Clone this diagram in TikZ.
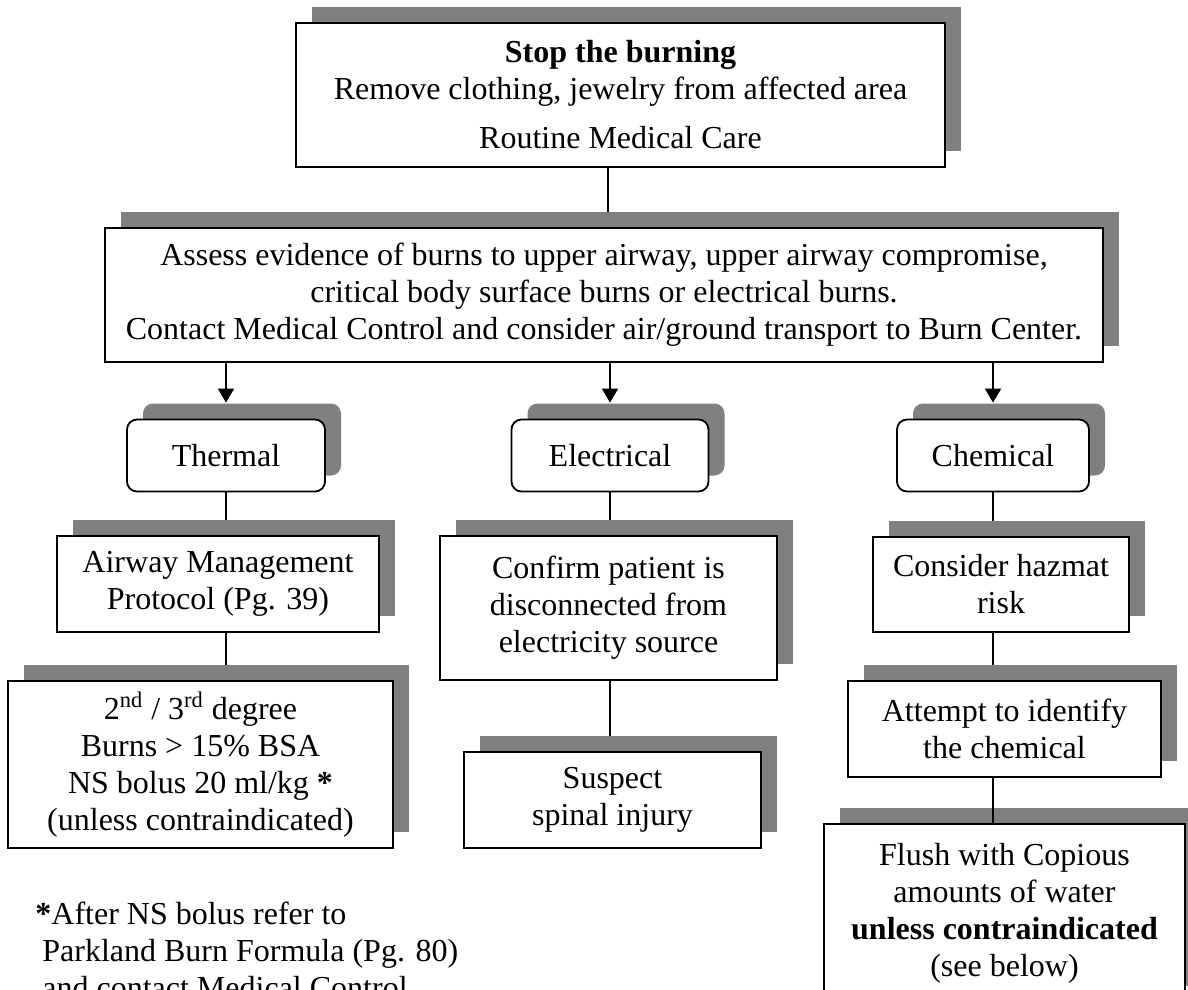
\documentclass[tikz,border=0pt]{standalone}
\usepackage{fontspec}
\setmainfont{Liberation Serif}
\usetikzlibrary{arrows.meta, shadows, backgrounds}

\begin{document}
\begin{tikzpicture}[
    x=0.5pt, y=-0.5pt,
    font=\fontsize{16}{18.5}\selectfont,
    careblock/.style={rectangle, draw=black, line width=0.9pt, fill=white,
                 align=center, inner sep=0pt,
                 general shadow={fill=black!50, shadow xshift=8pt, shadow yshift=8pt}},
    branchblock/.style={careblock, rounded corners=5pt},
    link/.style={line width=0.9pt},
    arr/.style={link, -{Triangle[length=7pt, width=8pt]}}
  ]
  \useasboundingbox (0,0) rectangle (1188,990);

  \node[careblock, minimum width=324.5pt, minimum height=72pt] (stop) at (620.5,95)
    {\textbf{Stop the burning}\\Remove clothing, jewelry from affected area\\[6pt]Routine Medical Care};
  \node[careblock, minimum width=499pt, minimum height=67pt] (assess) at (604,295)
    {Assess evidence of burns to upper airway, upper airway compromise,\\
     critical body surface burns or electrical burns.\\
     Contact Medical Control and consider air/ground transport to Burn Center.};

  % burn types
  \node[branchblock, minimum width=99pt, minimum height=36pt] (thermal) at (226,455.5) {Thermal};
  \node[branchblock, minimum width=98.5pt, minimum height=36pt] (electrical) at (610,455.5) {Electrical};
  \node[branchblock, minimum width=96pt, minimum height=36pt] (chemical) at (993,455.5) {Chemical};

  % thermal column
  \node[careblock, minimum width=161pt, minimum height=48pt] (airway) at (218,584)
    {Airway Management\\Protocol (Pg. 39)};
  \node[careblock, minimum width=192.5pt, minimum height=83.5pt] (degree) at (200.5,764.5)
    {2\textsuperscript{nd} / 3\textsuperscript{rd} degree\\Burns > 15\% BSA\\
     NS bolus 20 ml/kg \textbf{*}\\(unless contraindicated)};

  % electrical column
  \node[careblock, minimum width=168.5pt, minimum height=72pt] (confirm) at (608.5,608)
    {Confirm patient is\\disconnected from\\electricity source};
  \node[careblock, minimum width=148.5pt, minimum height=48pt] (spinal) at (612.5,800)
    {Suspect\\spinal injury};

  % chemical column
  \node[careblock, minimum width=128pt, minimum height=47.5pt] (hazmat) at (1001,584.5)
    {Consider hazmat\\risk};
  \node[careblock, minimum width=156.5pt, minimum height=48pt] (identify) at (1004.5,729)
    {Attempt to identify\\the chemical};
  \node[careblock, minimum width=180.5pt, minimum height=89pt] (flush) at (1004.5,913)
    {Flush with Copious\\amounts of water\\\textbf{unless contraindicated}\\(see below)};

  \node[align=left, anchor=north west, inner sep=0pt] (footnote) at (35,902)
    {\textbf{*}After NS bolus refer to\\
     \hspace*{3.5pt}Parkland Burn Formula (Pg. 80)\\
     \hspace*{3.5pt}and contact Medical Control};

  \begin{scope}[on background layer]
    \draw[link] ([xshift=2pt]assess.north |- stop.south) -- ([xshift=2pt]assess.north);
    \draw[link] (thermal) -- (thermal |- degree.north);
    \draw[link] (electrical) -- (electrical |- spinal.north);
    \draw[link] (chemical) -- (chemical |- identify.north);
  \end{scope}
  \draw[link] (chemical |- identify.south) -- (chemical |- flush.north);

  \foreach \kind in {thermal, electrical, chemical}
    \draw[arr] (\kind.north |- assess.south) -- ([yshift=8pt]\kind.north);

\end{tikzpicture}
\end{document}
